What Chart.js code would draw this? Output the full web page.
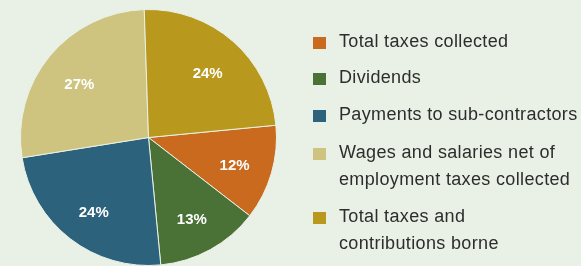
<!DOCTYPE html>
<html>
<head>
<meta charset="utf-8">
<script src="https://cdn.jsdelivr.net/npm/chart.js@4/dist/chart.umd.min.js"></script>
<style>
    html, body { margin: 0; padding: 0; background: #e9f1e6; }
    #wrap { position: relative; width: 581px; height: 266px; overflow: hidden; }
    #pie { position: absolute; left: 0; top: 0; }
    .leg { position: absolute; left: 0; top: 0; font-family: "Liberation Sans", Arial, sans-serif; font-size: 18px; letter-spacing: 0.35px; color: #2d2d2d; }
    .leg .item { position: absolute; left: 313px; }
    .leg .box { position: absolute; left: 0; width: 13px; height: 12px; }
    .leg .txt { position: absolute; left: 26px; white-space: nowrap; line-height: 27px; }
</style>
</head>
<body>
<div id="wrap">
    <canvas id="pie" width="581" height="266"></canvas>
    <div class="leg" id="legend"></div>
</div>
<script>
// dati del grafico
const categorie = ['Total taxes collected', 'Dividends', 'Payments to sub-contractors',
    'Wages and salaries net of employment taxes collected', 'Total taxes and contributions borne'];
const righeLegenda = [['Total taxes collected'], ['Dividends'], ['Payments to sub-contractors'],
    ['Wages and salaries net of', 'employment taxes collected'], ['Total taxes and', 'contributions borne']];
const valori = [12, 13, 24, 27, 24];
const colori = ['#c96a1f', '#4a7136', '#2d627c', '#cec480', '#b9981e'];

// etichette percentuali dentro le fette
const etichettePlugin = {
    id: 'etichette',
    afterDatasetsDraw(chart) {
        const ctx = chart.ctx;
        const meta = chart.getDatasetMeta(0);
        ctx.save();
        ctx.font = 'bold 15px "Liberation Sans", Arial, sans-serif';
        ctx.fillStyle = '#ffffff';
        ctx.textAlign = 'center';
        ctx.textBaseline = 'middle';
        meta.data.forEach(function (arc, i) {
            const p = arc.getProps(['x', 'y', 'startAngle', 'endAngle', 'outerRadius'], true);
            const mid = (p.startAngle + p.endAngle) / 2;
            const r = p.outerRadius * 0.7;
            ctx.fillText(valori[i] + '%', p.x + Math.cos(mid) * r, p.y + Math.sin(mid) * r + 4);
        });
        ctx.restore();
    }
};

const pieChart = new Chart(document.getElementById('pie').getContext('2d'), {
    type: 'pie',
    data: {
        labels: categorie,
        datasets: [{
            data: valori,
            backgroundColor: colori,
            borderColor: '#e9f1e6',
            borderWidth: 1
        }]
    },
    options: {
        responsive: false,
        animation: false,
        rotation: 84.5,
        layout: { padding: { left: 20, right: 304, top: 9, bottom: 0 } },
        plugins: {
            legend: { display: false },
            tooltip: { enabled: false }
        }
    },
    plugins: [etichettePlugin]
});

// legenda in HTML
const posLegenda = [28, 64, 101, 139, 203];
const legenda = document.getElementById('legend');
righeLegenda.forEach(function (righe, i) {
    const item = document.createElement('div');
    item.className = 'item';
    item.style.top = posLegenda[i] + 'px';
    item.innerHTML = '<div class="box" style="top:9px;background:' + colori[i] + '"></div>' +
        '<div class="txt">' + righe.join('<br>') + '</div>';
    legenda.appendChild(item);
});
</script>
</body>
</html>
